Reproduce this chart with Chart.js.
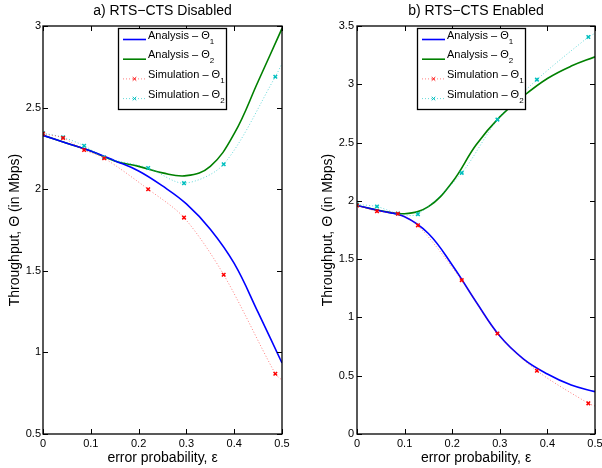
<!DOCTYPE html>
<html>
<head>
<meta charset="utf-8">
<script src="https://cdn.jsdelivr.net/npm/chart.js@4.4.1/dist/chart.umd.min.js"></script>
<style>
body { margin: 0; width: 602px; height: 468px; overflow: hidden; background: #fff; position: relative; }
canvas { position: absolute; top: 0; }
#left { left: 0; }
#right { left: 300px; }
</style>
</head>
<body>
<canvas id="left" width="300" height="468"></canvas>
<canvas id="right" width="320" height="468"></canvas>
<script>
// x samples
const anaX = [0, 0.05, 0.1, 0.15, 0.2, 0.25, 0.3, 0.35, 0.4, 0.45, 0.5];
const simX = [0, 0.042, 0.086, 0.128, 0.22, 0.295, 0.378, 0.486, 0.5]; // last one = where dotted line hits the edge (no marker)

// a) RTS-CTS disabled
const disAna1 = [2.33, 2.282, 2.234, 2.175, 2.112, 2.02, 1.91, 1.755, 1.545, 1.245, 0.935];
const disAna2 = [2.33, 2.282, 2.234, 2.173, 2.14, 2.10, 2.083, 2.14, 2.34, 2.66, 2.985];
const disSim1 = [2.34, 2.314, 2.24, 2.19, 2.0, 1.826, 1.476, 0.869, 0.83];
const disSim2 = [2.344, 2.318, 2.266, 2.195, 2.13, 2.037, 2.153, 2.689, 2.77];

// b) RTS-CTS enabled
const enAna1 = [1.96, 1.913, 1.864, 1.72, 1.45, 1.135, 0.84, 0.643, 0.515, 0.42, 0.363];
const enAna2 = [1.96, 1.915, 1.89, 1.95, 2.16, 2.479, 2.72, 2.9, 3.05, 3.156, 3.236];
const enSim1 = [1.96, 1.911, 1.89, 1.79, 1.32, 0.862, 0.543, 0.263, 0.24];
const enSim2 = [1.969, 1.951, 1.891, 1.886, 2.24, 2.697, 3.04, 3.405, 3.437];

// ticks
const xTicks = [0, 0.1, 0.2, 0.3, 0.4, 0.5];
const disYTicks = [0.5, 1, 1.5, 2, 2.5, 3];
const enYTicks = [0, 0.5, 1, 1.5, 2, 2.5, 3, 3.5];

const FONT = "'Liberation Sans', Arial, Helvetica, sans-serif";
Chart.defaults.font.family = FONT;
Chart.defaults.font.size = 11;
Chart.defaults.color = '#000';

const pts = (xs, ys) => xs.map((x, i) => ({ x: x, y: ys[i] }));

// box, inward ticks, titles and the matlab-ish legend
const framePlugin = {
  id: 'frame',
  afterDatasetsDraw(chart, args, o) {
    const { ctx, chartArea: a, scales } = chart;
    const x = scales.x, y = scales.y;
    ctx.save();
    ctx.strokeStyle = '#000';
    ctx.lineWidth = 1;
    ctx.beginPath();
    xTicks.forEach(v => {
      const px = Math.round(x.getPixelForValue(v)) + 0.5;
      ctx.moveTo(px, a.bottom); ctx.lineTo(px, a.bottom - 5);
      ctx.moveTo(px, a.top); ctx.lineTo(px, a.top + 5);
    });
    o.yTicks.forEach(v => {
      const py = Math.round(y.getPixelForValue(v)) + 0.5;
      ctx.moveTo(a.left, py); ctx.lineTo(a.left + 5, py);
      ctx.moveTo(a.right, py); ctx.lineTo(a.right - 5, py);
    });
    ctx.stroke();
    ctx.lineWidth = 1.3;
    ctx.strokeRect(a.left, a.top, a.right - a.left, a.bottom - a.top);

    // titles
    ctx.fillStyle = '#000';
    ctx.textAlign = 'center';
    ctx.textBaseline = 'middle';
    ctx.font = '14px ' + FONT;
    ctx.fillText(o.title, (a.left + a.right) / 2, 11);
    ctx.fillText('error probability, ε', (a.left + a.right) / 2, 458);
    ctx.save();
    ctx.translate(o.yTitleX, (a.top + a.bottom) / 2);
    ctx.rotate(-Math.PI / 2);
    ctx.fillText('Throughput, Θ (in Mbps)', 0, 0);
    ctx.restore();

    // legend
    const lx = o.legendX, ly = 28, lw = 108, lh = 81;
    ctx.fillStyle = '#fff';
    ctx.fillRect(lx, ly, lw, lh);
    ctx.strokeStyle = '#000';
    ctx.lineWidth = 1.3;
    ctx.strokeRect(lx + 0.5, ly + 0.5, lw, lh);
    chart.data.datasets.forEach((ds, i) => {
      const ry = ly + 11.5 + i * 19.7;
      ctx.save();
      ctx.strokeStyle = ds.borderColor;
      ctx.lineWidth = ds.borderWidth;
      ctx.setLineDash(ds.borderDash || []);
      ctx.beginPath();
      ctx.moveTo(lx + 5, ry); ctx.lineTo(lx + 28, ry);
      ctx.stroke();
      ctx.setLineDash([]);
      if (ds.markColor) {
        ctx.strokeStyle = ds.markColor;
        Chart.helpers.drawPoint(ctx, { pointStyle: 'crossRot', radius: 2.5, borderWidth: 1.5 }, lx + 16.5, ry);
      }
      ctx.restore();
      ctx.fillStyle = '#000';
      ctx.textAlign = 'left';
      ctx.textBaseline = 'middle';
      ctx.font = '11px ' + FONT;
      ctx.fillText(ds.label, lx + 30, ry - 4);
      const w = ctx.measureText(ds.label).width;
      ctx.font = '8px ' + FONT;
      ctx.fillText(ds.sub, lx + 30 + w, ry + 2);
    });
    ctx.restore();
  }
};

function makeChart(id, o) {
  const markR = c => (c.dataIndex < simX.length - 1 ? 2.5 : 0);
  return new Chart(document.getElementById(id), {
    type: 'line',
    data: {
      datasets: [
        { label: 'Analysis – Θ', sub: '1', data: pts(anaX, o.ana1), borderColor: '#0000ff', borderWidth: 1.6,
          pointRadius: 0, tension: 0.4, order: 1 },
        { label: 'Analysis – Θ', sub: '2', data: pts(anaX, o.ana2), borderColor: '#008000', borderWidth: 1.6,
          pointRadius: 0, tension: 0.4, order: 1 },
        { label: 'Simulation – Θ', sub: '1', data: pts(simX, o.sim1), borderColor: 'rgba(255,0,0,0.5)', borderWidth: 1,
          borderDash: [1, 2], tension: 0.3, pointStyle: 'crossRot', pointRadius: markR,
          pointBorderColor: '#ff0000', pointBorderWidth: 1.5, markColor: '#ff0000', order: 0 },
        { label: 'Simulation – Θ', sub: '2', data: pts(simX, o.sim2), borderColor: 'rgba(0,191,191,0.6)', borderWidth: 1,
          borderDash: [1, 2], tension: 0.3, pointStyle: 'crossRot', pointRadius: markR,
          pointBorderColor: '#00bfbf', pointBorderWidth: 1.5, markColor: '#00bfbf', order: 0 }
      ]
    },
    options: {
      responsive: false,
      animation: false,
      layout: { padding: { top: 26, right: o.padRight, bottom: 0, left: 0 } },
      scales: {
        x: {
          type: 'linear', min: 0, max: 0.5,
          grid: { display: false, drawTicks: false }, border: { display: false },
          afterBuildTicks: s => { s.ticks = xTicks.map(v => ({ value: v })); },
          afterFit: s => { s.height = 34; },
          ticks: { padding: 3, autoSkip: false, maxRotation: 0, callback: v => String(v) }
        },
        y: {
          type: 'linear', min: o.yTicks[0], max: o.yTicks[o.yTicks.length - 1],
          grid: { display: false, drawTicks: false }, border: { display: false },
          afterBuildTicks: s => { s.ticks = o.yTicks.map(v => ({ value: v })); },
          afterFit: s => { s.width = o.axisW; },
          ticks: { padding: o.tickPad, autoSkip: false, callback: v => String(v) }
        }
      },
      plugins: {
        legend: { display: false },
        tooltip: { enabled: false },
        frame: { title: o.title, yTicks: o.yTicks, yTitleX: o.yTitleX, legendX: o.legendX }
      }
    },
    plugins: [framePlugin]
  });
}

makeChart('left', {
  title: 'a) RTS−CTS Disabled', ana1: disAna1, ana2: disAna2, sim1: disSim1, sim2: disSim2,
  yTicks: disYTicks, axisW: 43, padRight: 18, tickPad: 2, yTitleX: 15, legendX: 118
});
makeChart('right', {
  title: 'b) RTS−CTS Enabled', ana1: enAna1, ana2: enAna2, sim1: enSim1, sim2: enSim2,
  yTicks: enYTicks, axisW: 57, padRight: 25, tickPad: 3, yTitleX: 28, legendX: 117
});
</script>
</body>
</html>
